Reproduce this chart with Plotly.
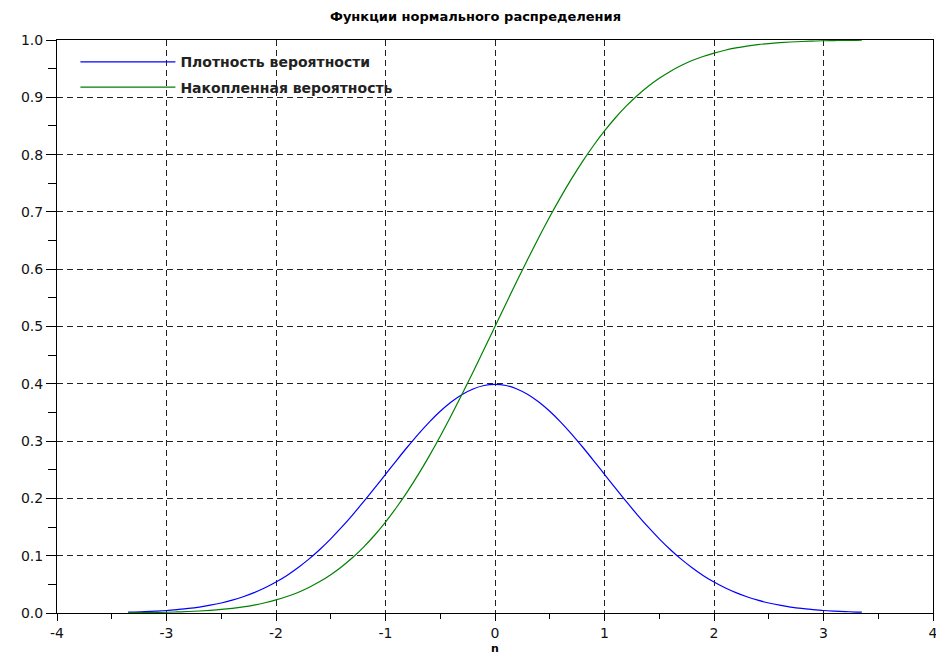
import plotly.graph_objects as go

# x grid
x_vals = [-3.35, -3.3, -3.2, -3.1, -3.0, -2.9, -2.8, -2.7, -2.6, -2.5, -2.4, -2.3, -2.2, -2.1,
          -2.0, -1.9, -1.8, -1.7, -1.6, -1.5, -1.4, -1.3, -1.2, -1.1, -1.0, -0.9, -0.8, -0.7,
          -0.6, -0.5, -0.4, -0.3, -0.2, -0.1, 0.0, 0.1, 0.2, 0.3, 0.4, 0.5, 0.6, 0.7, 0.8, 0.9,
          1.0, 1.1, 1.2, 1.3, 1.4, 1.5, 1.6, 1.7, 1.8, 1.9, 2.0, 2.1, 2.2, 2.3, 2.4, 2.5, 2.6,
          2.7, 2.8, 2.9, 3.0, 3.1, 3.2, 3.3, 3.35]

density = [0.0015, 0.0017, 0.0024, 0.0033, 0.0044, 0.0060, 0.0079, 0.0104, 0.0136, 0.0175,
           0.0224, 0.0283, 0.0355, 0.0440, 0.0540, 0.0656, 0.0790, 0.0940, 0.1109, 0.1295,
           0.1497, 0.1714, 0.1942, 0.2179, 0.2420, 0.2661, 0.2897, 0.3123, 0.3332, 0.3521,
           0.3683, 0.3814, 0.3910, 0.3970, 0.3989, 0.3970, 0.3910, 0.3814, 0.3683, 0.3521,
           0.3332, 0.3123, 0.2897, 0.2661, 0.2420, 0.2179, 0.1942, 0.1714, 0.1497, 0.1295,
           0.1109, 0.0940, 0.0790, 0.0656, 0.0540, 0.0440, 0.0355, 0.0283, 0.0224, 0.0175,
           0.0136, 0.0104, 0.0079, 0.0060, 0.0044, 0.0033, 0.0024, 0.0017, 0.0015]

cumulative = [0.0004, 0.0005, 0.0007, 0.0010, 0.0013, 0.0019, 0.0026, 0.0035, 0.0047, 0.0062,
              0.0082, 0.0107, 0.0139, 0.0179, 0.0228, 0.0287, 0.0359, 0.0446, 0.0548, 0.0668,
              0.0808, 0.0968, 0.1151, 0.1357, 0.1587, 0.1841, 0.2119, 0.2420, 0.2743, 0.3085,
              0.3446, 0.3821, 0.4207, 0.4602, 0.5000, 0.5398, 0.5793, 0.6179, 0.6554, 0.6915,
              0.7257, 0.7580, 0.7881, 0.8159, 0.8413, 0.8643, 0.8849, 0.9032, 0.9192, 0.9332,
              0.9452, 0.9554, 0.9641, 0.9713, 0.9772, 0.9821, 0.9861, 0.9893, 0.9918, 0.9938,
              0.9953, 0.9965, 0.9974, 0.9981, 0.9987, 0.9990, 0.9993, 0.9995, 0.9996]

series_names = ["Плотность вероятности", "Накопленная вероятность"]
title_text = "Функции нормального распределения"
x_ticks = [-4, -3, -2, -1, 0, 1, 2, 3, 4]
y_ticks = [0.0, 0.1, 0.2, 0.3, 0.4, 0.5, 0.6, 0.7, 0.8, 0.9, 1.0]

fig = go.Figure()
fig.add_trace(go.Scatter(x=x_vals, y=density, mode="lines", name=series_names[0],
                         line=dict(color="#0000ff", width=1.2, shape="spline"),
                         legendgroup="a"))
fig.add_trace(go.Scatter(x=x_vals, y=cumulative, mode="lines", name=series_names[1],
                         line=dict(color="#008000", width=1.2, shape="spline"),
                         legendgroup="b"))

W, H = 936, 657
ml, mr, mt, mb = 57, 3, 40, 44
ph = H - mt - mb
pw = W - ml - mr

FONT = "DejaVu Sans, Arial, sans-serif"

fig.update_layout(
    width=W, height=H,
    margin=dict(l=ml, r=mr, t=mt, b=mb, autoexpand=False),
    paper_bgcolor="white", plot_bgcolor="white",
    font=dict(family=FONT, color="black", size=13),
    showlegend=True,
    legend=dict(x=0.021, y=0.989, xanchor="left", yanchor="top",
                bgcolor="rgba(0,0,0,0)", borderwidth=0,
                font=dict(size=14, color="#222222", family=FONT, weight="bold"),
                itemwidth=95, tracegroupgap=4, traceorder="grouped"),
    xaxis=dict(range=[-4, 4], tickvals=x_ticks, ticktext=[str(v) for v in x_ticks],
               showgrid=True, gridcolor="#222222", griddash="6px,4px", gridwidth=1,
               showline=True, mirror=True, linecolor="black", linewidth=1,
               ticks="outside", ticklen=7, tickcolor="black",
               minor=dict(dtick=0.5, ticks="outside", ticklen=5, tickcolor="black", showgrid=False),
               zeroline=False, tickfont=dict(size=14, color="#111111"),
               ticklabeloverflow="allow", automargin=False),
    yaxis=dict(range=[0, 1], tickvals=y_ticks, ticktext=[f"{v:.1f}" for v in y_ticks],
               showgrid=True, gridcolor="#222222", griddash="6px,4px", gridwidth=1,
               showline=True, mirror=True, linecolor="black", linewidth=1,
               ticks="outside", ticklen=10, tickcolor="black",
               minor=dict(dtick=0.05, ticks="outside", ticklen=8, tickcolor="black", showgrid=False),
               zeroline=False, tickfont=dict(size=14, color="#111111"),
               ticklabeloverflow="allow", automargin=False),
    annotations=[
        dict(text=title_text, xref="paper", yref="paper", x=(475 - ml) / pw, y=1 + (mt - 17) / ph,
             xanchor="center", yanchor="middle", showarrow=False,
             font=dict(size=13, color="black", family=FONT, weight="bold")),
        dict(text="n", xref="paper", yref="paper", x=(495 - ml) / pw, y=-(657 - (H - mb)) / ph,
             xanchor="center", yanchor="bottom", showarrow=False,
             font=dict(size=11, color="black", family=FONT, weight="bold")),
    ],
)

fig.write_html("out.html")
